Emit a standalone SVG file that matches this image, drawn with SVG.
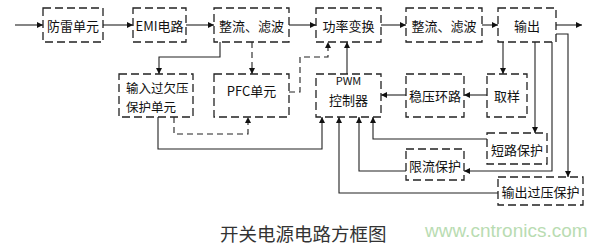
<svg xmlns="http://www.w3.org/2000/svg" width="609" height="246" viewBox="0 0 609 246">
<style>
.box{fill:#fff;stroke:#222;stroke-width:1.3;stroke-dasharray:8,4}
.t{font-family:"Noto Sans CJK SC","Liberation Sans",sans-serif;font-size:13px;fill:#111;text-anchor:middle;dominant-baseline:central}
.c{fill:none;stroke:#222;stroke-width:1.1}
.d{stroke-dasharray:6,4}
</style>
<defs>
<marker id="a" markerWidth="7" markerHeight="7" refX="6" refY="3" orient="auto" markerUnits="userSpaceOnUse"><path d="M0,0 L6,3 L0,6 z" fill="#111"/></marker>
</defs>
<rect width="609" height="246" fill="#fff"/>
<g id="connectors">
<path class="c" marker-end="url(#a)" d="M15,25 H43"/>
<path class="c" marker-end="url(#a)" d="M103,25 H133"/>
<path class="c" marker-end="url(#a)" d="M186,25 H214"/>
<path class="c" marker-end="url(#a)" d="M289,25 H316"/>
<path class="c" marker-end="url(#a)" d="M381,25 H406"/>
<path class="c" marker-end="url(#a)" d="M482,25 H498"/>
<path class="c" marker-end="url(#a)" d="M556,25 H582"/>
<path class="c" marker-end="url(#a)" d="M220,42 V57 H159 V74"/>
<path class="c d" marker-end="url(#a)" d="M252,42 V74"/>
<path class="c d" marker-end="url(#a)" d="M289,92 H300 V57 H328 V42"/>
<path class="c" marker-end="url(#a)" d="M347,74 V42"/>
<path class="c" marker-end="url(#a)" d="M406,95 H381"/>
<path class="c" marker-end="url(#a)" d="M487,95 H464"/>
<path class="c" marker-end="url(#a)" d="M503,42 V74"/>
<path class="c" marker-end="url(#a)" d="M535,42 V133"/>
<path class="c" marker-end="url(#a)" d="M552,42 V171 H464"/>
<path class="c" marker-end="url(#a)" d="M556,34 H568 V177"/>
<path class="c" marker-end="url(#a)" d="M487,139 H373 V117"/>
<path class="c" marker-end="url(#a)" d="M406,171 H359 V117"/>
<path class="c" marker-end="url(#a)" d="M498,193 H339 V117"/>
<path class="c" marker-end="url(#a)" d="M158,117 V149 H322 V117"/>
<path class="c d" marker-end="url(#a)" d="M174,117 V134 H248 V117"/>
</g>
<g id="n1"><rect class="box" x="43" y="8" width="60" height="34"/><text class="t" x="73" y="25">防雷单元</text></g>
<g id="n2"><rect class="box" x="133" y="8" width="53" height="34"/><text class="t" x="159.5" y="25">EMI电路</text></g>
<g id="n3"><rect class="box" x="214" y="8" width="75" height="34"/><text class="t" x="251.5" y="25">整流、滤波</text></g>
<g id="n4"><rect class="box" x="316" y="8" width="65" height="34"/><text class="t" x="348.5" y="25">功率变换</text></g>
<g id="n5"><rect class="box" x="406" y="8" width="76" height="34"/><text class="t" x="444" y="25">整流、滤波</text></g>
<g id="n6"><rect class="box" x="498" y="8" width="58" height="34"/><text class="t" x="527" y="25">输出</text></g>
<g id="n7"><rect class="box" x="119" y="74" width="74" height="43"/><text class="t" x="126" y="87" style="text-anchor:start;font-size:12.5px">输入过欠压</text><text class="t" x="126" y="106" style="text-anchor:start;font-size:12.5px">保护单元</text></g>
<g id="n8"><rect class="box" x="214" y="74" width="75" height="43"/><text class="t" x="251.5" y="90">PFC单元</text></g>
<g id="n9"><rect class="box" x="316" y="74" width="65" height="43"/><text class="t" x="348.5" y="80" style="font-size:11px">PWM</text><text class="t" x="348.5" y="99">控制器</text></g>
<g id="n10"><rect class="box" x="406" y="74" width="58" height="43"/><text class="t" x="435" y="95">稳压环路</text></g>
<g id="n11"><rect class="box" x="487" y="74" width="40" height="43"/><text class="t" x="507" y="95">取样</text></g>
<g id="n12"><rect class="box" x="487" y="133" width="60" height="31"/><text class="t" x="517" y="149">短路保护</text></g>
<g id="n13"><rect class="box" x="406" y="149" width="58" height="31"/><text class="t" x="435" y="165">限流保护</text></g>
<g id="n14"><rect class="box" x="498" y="177" width="85" height="28"/><text class="t" x="540.5" y="191">输出过压保护</text></g>
<text x="220" y="241" style="font-family:'Noto Sans CJK SC',sans-serif;font-size:18.5px;fill:#333">开关电源电路方框图</text>
<text x="425" y="237" style="font-family:'Liberation Sans',Arial,sans-serif;font-size:19px;fill:#b9dcb2">www.cntronics.com</text>
</svg>
